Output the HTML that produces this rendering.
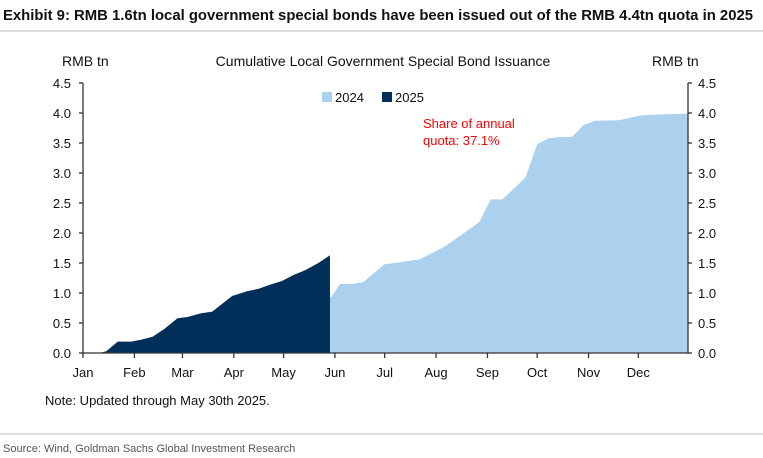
<!DOCTYPE html>
<html><head><meta charset="utf-8"><style>
body{margin:0;background:#fff}
svg{display:block;font-family:"Liberation Sans",Arial,sans-serif}
</style></head><body>
<svg width="763" height="458" viewBox="0 0 763 458">
<text x="3" y="20" font-size="15" font-weight="bold" fill="#111" textLength="750" lengthAdjust="spacingAndGlyphs">Exhibit 9: RMB 1.6tn local government special bonds have been issued out of the RMB 4.4tn quota in 2025</text>
<line x1="0" y1="31" x2="763" y2="31" stroke="#bbb" stroke-width="1"/>
<text x="383" y="66" font-size="14" text-anchor="middle" fill="#111">Cumulative Local Government Special Bond Issuance</text>
<text x="62" y="66" font-size="14" fill="#111">RMB tn</text>
<text x="652" y="66" font-size="14" fill="#111">RMB tn</text>
<g id="plot"></g>
<g id="axes"></g>
<rect x="322" y="92" width="10" height="10" fill="#abd1ee"/>
<text x="335" y="102" font-size="13" fill="#111">2024</text>
<rect x="382" y="92" width="10" height="10" fill="#00305a"/>
<text x="395" y="102" font-size="13" fill="#111">2025</text>
<text x="423" y="128" font-size="13" fill="#f00">Share of annual</text>
<text x="423" y="145" font-size="13" fill="#f00">quota: 37.1%</text>
<text x="45" y="405" font-size="13" fill="#111">Note: Updated through May 30th 2025.</text>
<line x1="0" y1="434" x2="763" y2="434" stroke="#bbb" stroke-width="1"/>
<text x="3" y="452" font-size="11" fill="#555">Source: Wind, Goldman Sachs Global Investment Research</text>
</svg>
<script>
const days2024=[0,20,40,60,80,100,120,140,150,155,162,169,182,191,203,218,231,239,246,253,260,267,274,281,288,295,302,309,323,337,352,365];
const vals2024=[0,0,0.1,0.25,0.35,0.5,0.7,0.85,0.94,1.15,1.15,1.18,1.48,1.51,1.56,1.77,2.02,2.18,2.56,2.56,2.74,2.93,3.48,3.58,3.60,3.60,3.80,3.87,3.88,3.96,3.98,3.99];
const days2025=[0,10,14,21,29,35,42,49,57,63,71,78,84,90,99,106,113,120,127,134,142,149];
const vals2025=[0,0,0.03,0.19,0.19,0.22,0.27,0.40,0.58,0.60,0.66,0.69,0.82,0.95,1.03,1.07,1.14,1.20,1.30,1.38,1.50,1.63];
const yTicks=["0.0","0.5","1.0","1.5","2.0","2.5","3.0","3.5","4.0","4.5"];
const months=["Jan","Feb","Mar","Apr","May","Jun","Jul","Aug","Sep","Oct","Nov","Dec"];
const monthStart=[0,31,60,91,121,152,182,213,244,274,305,335];
const X0=83,X1=688,Y0=353,YMAX=4.5,YTOP=83;
const xs=d=>X0+d/365*(X1-X0);
const ys=v=>Y0-v/YMAX*(Y0-YTOP);
const NS="http://www.w3.org/2000/svg";
const plot=document.getElementById('plot'),axes=document.getElementById('axes');
function area(days,vals,color,name){
  let d=`M${xs(days[0])},${Y0}`;
  days.forEach((dd,i)=>d+=`L${xs(dd)},${ys(vals[i])}`);
  d+=`L${xs(days[days.length-1])},${Y0}Z`;
  const p=document.createElementNS(NS,'path');
  p.setAttribute('d',d);p.setAttribute('fill',color);
  
  
  plot.appendChild(p);
}
area(days2024,vals2024,'#abd1ee','area-2024');
area(days2025,vals2025,'#00305a','area-2025');
function line(x1,y1,x2,y2,name){
  const l=document.createElementNS(NS,'line');
  l.setAttribute('x1',x1);l.setAttribute('y1',y1);l.setAttribute('x2',x2);l.setAttribute('y2',y2);
  l.setAttribute('stroke','#333');l.setAttribute('stroke-width','1.3');
  
  
  axes.appendChild(l);
}
function txt(x,y,s,anchor,name){
  const t=document.createElementNS(NS,'text');
  t.setAttribute('x',x);t.setAttribute('y',y);t.setAttribute('font-size','13');
  t.setAttribute('text-anchor',anchor);t.setAttribute('fill','#111');t.textContent=s;
  
  
  axes.appendChild(t);
}
line(X0,YTOP,X0,Y0,'left-axis');
line(X1,YTOP,X1,Y0,'right-axis');
line(X0,Y0,X1,Y0,'x-axis');
yTicks.forEach(s=>{
  const y=ys(parseFloat(s));
  line(X0-4,y,X0,y,'left-tick');
  line(X1,y,X1+4,y,'right-tick');
  txt(71,y+5,s,'end','left-tick-label');
  txt(698,y+5,s,'start','right-tick-label');
});
months.forEach((m,i)=>{
  const x=xs(monthStart[i]);
  line(x,Y0,x,Y0+5,'month-tick');
  txt(x,377,m,'middle','month-label');
});
</script>
</body></html>
